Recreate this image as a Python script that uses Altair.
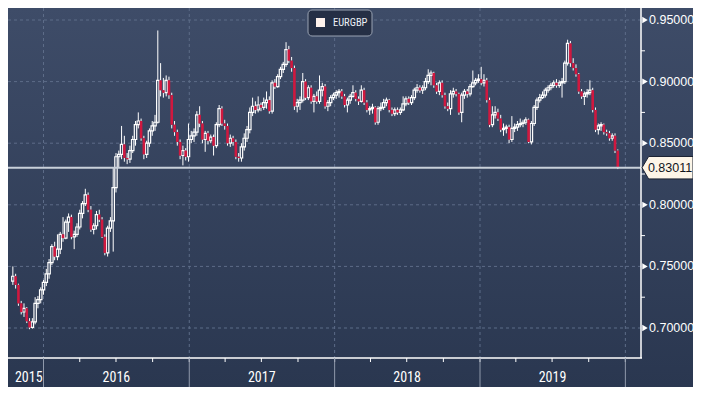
import altair as alt
import pandas as pd

# ---------------- data (weekly EURGBP candles) -------------
series_name = "EURGBP"
first_week = "2015-10-16"
last_price = 0.83011

opens = [
    0.7380, 0.7420, 0.7350, 0.7200, 0.7130, 0.7160, 0.7055, 0.7005, 0.7050, 0.7200,
    0.7230, 0.7310, 0.7370, 0.7440, 0.7530, 0.7660, 0.7580, 0.7640, 0.7760, 0.7730,
    0.7860, 0.7900, 0.7740, 0.7760, 0.7820, 0.7930, 0.8010, 0.8080, 0.7960, 0.7800,
    0.7830, 0.7920, 0.7880, 0.7740, 0.7610, 0.7810, 0.7870, 0.8140, 0.8390, 0.8410,
    0.8490, 0.8380, 0.8370, 0.8440, 0.8530, 0.8650, 0.8680, 0.8540, 0.8410, 0.8500,
    0.8600, 0.8640, 0.8670, 0.9010, 0.8930, 0.8910, 0.9010, 0.8890, 0.8650, 0.8590,
    0.8510, 0.8400, 0.8440, 0.8390, 0.8530, 0.8560, 0.8590, 0.8730, 0.8660, 0.8530,
    0.8580, 0.8520, 0.8550, 0.8480, 0.8650, 0.8780, 0.8660, 0.8640, 0.8500, 0.8540,
    0.8510, 0.8390, 0.8380, 0.8470, 0.8540, 0.8610, 0.8750, 0.8800, 0.8770, 0.8810,
    0.8790, 0.8830, 0.8850, 0.8760, 0.8990, 0.8960, 0.9040, 0.9100, 0.9140, 0.9260,
    0.9170, 0.9110, 0.8800, 0.8830, 0.8850, 0.9000, 0.8870, 0.8950, 0.8840, 0.8880,
    0.8840, 0.8930, 0.8960, 0.8800, 0.8830, 0.8870, 0.8890, 0.8910, 0.8920, 0.8880,
    0.8810, 0.8850, 0.8880, 0.8910, 0.8860, 0.8840, 0.8930, 0.8830, 0.8770, 0.8780,
    0.8790, 0.8670, 0.8780, 0.8790, 0.8830, 0.8850, 0.8770, 0.8740, 0.8770, 0.8750,
    0.8770, 0.8820, 0.8860, 0.8830, 0.8870, 0.8930, 0.8950, 0.8930, 0.8950, 0.9000,
    0.9050, 0.9070, 0.8970, 0.8920, 0.8990, 0.8890, 0.8800, 0.8780, 0.8900, 0.8920,
    0.8900, 0.8750, 0.8890, 0.8920, 0.8900, 0.8960, 0.8990, 0.9010, 0.9020, 0.8990,
    0.9010, 0.8850, 0.8650, 0.8730, 0.8750, 0.8700, 0.8610, 0.8620, 0.8630, 0.8530,
    0.8620, 0.8630, 0.8650, 0.8660, 0.8670, 0.8690, 0.8510, 0.8660, 0.8790, 0.8850,
    0.8870, 0.8890, 0.8930, 0.8950, 0.8970, 0.8990, 0.8970, 0.8990, 0.9000, 0.9150,
    0.9310, 0.9150, 0.9110, 0.9060, 0.8920, 0.8880, 0.8900, 0.8910, 0.8930, 0.8770,
    0.8610, 0.8640, 0.8650, 0.8590, 0.8580, 0.8540, 0.8560, 0.8440,
]
highs = [
    0.7500, 0.7440, 0.7360, 0.7220, 0.7200, 0.7170, 0.7080, 0.7080, 0.7250, 0.7260,
    0.7330, 0.7390, 0.7480, 0.7560, 0.7680, 0.7700, 0.7760, 0.7780, 0.7900, 0.7880,
    0.7930, 0.7920, 0.7790, 0.7850, 0.7960, 0.8030, 0.8130, 0.8100, 0.7990, 0.7850,
    0.7950, 0.7960, 0.7900, 0.7760, 0.7830, 0.7900, 0.8300, 0.8420, 0.8440, 0.8640,
    0.8560, 0.8420, 0.8480, 0.8560, 0.8680, 0.8750, 0.8700, 0.8560, 0.8520, 0.8620,
    0.8680, 0.8730, 0.9415, 0.9150, 0.9030, 0.9050, 0.9040, 0.8910, 0.8680, 0.8610,
    0.8530, 0.8480, 0.8460, 0.8660, 0.8600, 0.8620, 0.8760, 0.8800, 0.8680, 0.8600,
    0.8600, 0.8570, 0.8570, 0.8670, 0.8810, 0.8800, 0.8690, 0.8660, 0.8570, 0.8560,
    0.8530, 0.8420, 0.8500, 0.8580, 0.8640, 0.8790, 0.8870, 0.8840, 0.8880, 0.8830,
    0.8870, 0.8920, 0.8880, 0.9010, 0.9020, 0.9060, 0.9120, 0.9160, 0.9320, 0.9290,
    0.9200, 0.9130, 0.8860, 0.8880, 0.9070, 0.9020, 0.8970, 0.8970, 0.8900, 0.8920,
    0.9050, 0.8990, 0.8980, 0.8850, 0.8890, 0.8910, 0.8930, 0.8940, 0.8940, 0.8900,
    0.8870, 0.8900, 0.8970, 0.8930, 0.8880, 0.8970, 0.8950, 0.8850, 0.8800, 0.8820,
    0.8800, 0.8800, 0.8830, 0.8860, 0.8870, 0.8860, 0.8790, 0.8790, 0.8790, 0.8790,
    0.8880, 0.8880, 0.8880, 0.8890, 0.8950, 0.8980, 0.8970, 0.8970, 0.9030, 0.9100,
    0.9090, 0.9080, 0.8990, 0.9010, 0.9010, 0.8910, 0.8830, 0.8930, 0.8950, 0.8940,
    0.8910, 0.8910, 0.8940, 0.8940, 0.8980, 0.9090, 0.9030, 0.9060, 0.9120, 0.9060,
    0.9030, 0.8870, 0.8800, 0.8800, 0.8780, 0.8730, 0.8660, 0.8650, 0.8650, 0.8720,
    0.8660, 0.8680, 0.8700, 0.8690, 0.8710, 0.8700, 0.8680, 0.8810, 0.8870, 0.8900,
    0.8920, 0.8950, 0.8970, 0.8990, 0.9010, 0.9020, 0.9010, 0.9030, 0.9170, 0.9340,
    0.9330, 0.9190, 0.9140, 0.9070, 0.8940, 0.8920, 0.8940, 0.9010, 0.8950, 0.8790,
    0.8660, 0.8670, 0.8660, 0.8610, 0.8600, 0.8580, 0.8580, 0.8450,
]
lows = [
    0.7350, 0.7320, 0.7180, 0.7110, 0.7090, 0.7040, 0.6990, 0.6995, 0.7030, 0.7160,
    0.7200, 0.7270, 0.7340, 0.7400, 0.7510, 0.7550, 0.7550, 0.7600, 0.7700, 0.7720,
    0.7780, 0.7720, 0.7640, 0.7740, 0.7800, 0.7890, 0.7990, 0.7940, 0.7780, 0.7760,
    0.7800, 0.7860, 0.7730, 0.7590, 0.7580, 0.7780, 0.7620, 0.8100, 0.8300, 0.8370,
    0.8350, 0.8330, 0.8340, 0.8420, 0.8480, 0.8620, 0.8520, 0.8370, 0.8380, 0.8470,
    0.8560, 0.8600, 0.8660, 0.8880, 0.8870, 0.8880, 0.8860, 0.8620, 0.8560, 0.8480,
    0.8370, 0.8320, 0.8360, 0.8350, 0.8500, 0.8510, 0.8560, 0.8630, 0.8500, 0.8430,
    0.8490, 0.8500, 0.8400, 0.8460, 0.8630, 0.8640, 0.8610, 0.8480, 0.8470, 0.8480,
    0.8370, 0.8350, 0.8350, 0.8440, 0.8510, 0.8580, 0.8720, 0.8740, 0.8750, 0.8760,
    0.8770, 0.8780, 0.8740, 0.8740, 0.8940, 0.8950, 0.9020, 0.9070, 0.9120, 0.9150,
    0.9080, 0.8770, 0.8750, 0.8770, 0.8830, 0.8850, 0.8850, 0.8820, 0.8750, 0.8820,
    0.8820, 0.8880, 0.8780, 0.8760, 0.8800, 0.8850, 0.8860, 0.8870, 0.8860, 0.8790,
    0.8750, 0.8820, 0.8870, 0.8840, 0.8810, 0.8830, 0.8810, 0.8750, 0.8730, 0.8740,
    0.8650, 0.8650, 0.8760, 0.8770, 0.8800, 0.8750, 0.8720, 0.8720, 0.8730, 0.8730,
    0.8760, 0.8800, 0.8810, 0.8810, 0.8850, 0.8910, 0.8910, 0.8900, 0.8930, 0.8980,
    0.8970, 0.8950, 0.8900, 0.8890, 0.8870, 0.8780, 0.8760, 0.8730, 0.8870, 0.8880,
    0.8730, 0.8670, 0.8860, 0.8870, 0.8880, 0.8950, 0.8970, 0.8990, 0.8970, 0.8960,
    0.8830, 0.8630, 0.8630, 0.8700, 0.8680, 0.8590, 0.8560, 0.8580, 0.8500, 0.8510,
    0.8590, 0.8600, 0.8630, 0.8630, 0.8650, 0.8500, 0.8490, 0.8640, 0.8770, 0.8830,
    0.8860, 0.8870, 0.8910, 0.8930, 0.8950, 0.8950, 0.8950, 0.8870, 0.8980, 0.9130,
    0.9120, 0.9090, 0.9040, 0.8900, 0.8860, 0.8810, 0.8870, 0.8890, 0.8750, 0.8590,
    0.8570, 0.8600, 0.8570, 0.8560, 0.8520, 0.8520, 0.8420, 0.8290,
]
closes = [
    0.7420, 0.7350, 0.7200, 0.7130, 0.7160, 0.7055, 0.7005, 0.7050, 0.7200, 0.7230,
    0.7310, 0.7370, 0.7440, 0.7530, 0.7660, 0.7580, 0.7640, 0.7760, 0.7730, 0.7860,
    0.7900, 0.7740, 0.7760, 0.7820, 0.7930, 0.8010, 0.8080, 0.7960, 0.7800, 0.7830,
    0.7920, 0.7880, 0.7740, 0.7610, 0.7810, 0.7870, 0.8140, 0.8390, 0.8410, 0.8490,
    0.8380, 0.8370, 0.8440, 0.8530, 0.8650, 0.8680, 0.8540, 0.8410, 0.8500, 0.8600,
    0.8640, 0.8670, 0.9010, 0.8930, 0.8910, 0.9010, 0.8890, 0.8650, 0.8590, 0.8510,
    0.8400, 0.8440, 0.8390, 0.8530, 0.8560, 0.8590, 0.8730, 0.8660, 0.8530, 0.8580,
    0.8520, 0.8550, 0.8480, 0.8650, 0.8780, 0.8660, 0.8640, 0.8500, 0.8540, 0.8510,
    0.8390, 0.8380, 0.8470, 0.8540, 0.8610, 0.8750, 0.8800, 0.8770, 0.8810, 0.8790,
    0.8830, 0.8850, 0.8760, 0.8990, 0.8960, 0.9040, 0.9100, 0.9140, 0.9260, 0.9170,
    0.9110, 0.8800, 0.8830, 0.8850, 0.9000, 0.8870, 0.8950, 0.8840, 0.8880, 0.8840,
    0.8930, 0.8960, 0.8800, 0.8830, 0.8870, 0.8890, 0.8910, 0.8920, 0.8880, 0.8810,
    0.8850, 0.8880, 0.8910, 0.8860, 0.8840, 0.8930, 0.8830, 0.8770, 0.8780, 0.8790,
    0.8670, 0.8780, 0.8790, 0.8830, 0.8850, 0.8770, 0.8740, 0.8770, 0.8750, 0.8770,
    0.8820, 0.8860, 0.8830, 0.8870, 0.8930, 0.8950, 0.8930, 0.8950, 0.9000, 0.9050,
    0.9070, 0.8970, 0.8920, 0.8990, 0.8890, 0.8800, 0.8780, 0.8900, 0.8920, 0.8900,
    0.8750, 0.8890, 0.8920, 0.8900, 0.8960, 0.8990, 0.9010, 0.9020, 0.8990, 0.9010,
    0.8850, 0.8650, 0.8730, 0.8750, 0.8700, 0.8610, 0.8620, 0.8630, 0.8530, 0.8620,
    0.8630, 0.8650, 0.8660, 0.8670, 0.8690, 0.8510, 0.8660, 0.8790, 0.8850, 0.8870,
    0.8890, 0.8930, 0.8950, 0.8970, 0.8990, 0.8970, 0.8990, 0.9000, 0.9150, 0.9310,
    0.9150, 0.9110, 0.9060, 0.8920, 0.8880, 0.8900, 0.8910, 0.8930, 0.8770, 0.8610,
    0.8640, 0.8650, 0.8590, 0.8580, 0.8540, 0.8560, 0.8440, 0.8301,
]

y_ticks = [0.70, 0.75, 0.80, 0.85, 0.90, 0.95]
y_minor = [0.725, 0.775, 0.825, 0.875, 0.925]
year_labels = ["2015", "2016", "2017", "2018", "2019"]
year_starts = ["2016-01-01", "2017-01-01", "2018-01-01", "2019-01-01", "2020-01-01"]

# ---------------- layout ---------------------------------------------------------
W, H = 633, 350          # plot area
RP, BP = 52, 29          # room for right axis and bottom axis (page stays 701x395)
DAY = 86400000
PPD = 0.40465            # pixels per day
X2016 = 31               # pixel of 2016-01-01 inside the plot
t2016 = pd.Timestamp("2016-01-01", tz="UTC").value // 10**6
x_dom = [t2016 - X2016 / PPD * DAY, t2016 + (W - X2016) / PPD * DAY]
y_dom = [0.95 - 338 / 1232, 0.95 + 12 / 1232]

xs = alt.Scale(type="utc", domain=x_dom)
ys = alt.Scale(domain=y_dom, nice=False, zero=False)

NARROW = "Liberation Sans Narrow, Roboto Condensed, DejaVu Sans Condensed, Liberation Sans, sans-serif"
SANS = "Liberation Sans, Arial, sans-serif"

dates = list(pd.date_range(first_week, periods=len(closes), freq="7D").strftime("%Y-%m-%d"))
candles = pd.DataFrame({"date": dates, "o": opens, "h": highs, "l": lows, "c": closes})
one = pd.DataFrame({"k": [0]})

# background gradient
bg = alt.Chart(one).mark_rect(
    fill=alt.LinearGradient(
        gradient="linear",
        stops=[alt.GradientStop(color="#3e4c68", offset=0),
               alt.GradientStop(color="#2a3750", offset=1)],
        x1=0, x2=0, y1=0, y2=1),
).encode(x=alt.value(0), x2=alt.value(W + RP), y=alt.value(0), y2=alt.value(H + BP))

grid_h = alt.Chart(pd.DataFrame({"v": y_ticks})).mark_rule(
    color="#5d6c88", strokeDash=[3, 3], strokeWidth=1
).encode(y=alt.Y("v:Q", scale=ys, axis=None))

grid_v = alt.Chart(pd.DataFrame({"d": year_starts})).mark_rule(
    color="#5d6c88", strokeDash=[3, 3], strokeWidth=1
).encode(x=alt.X("d:T", scale=xs, axis=None), y=alt.value(0), y2=alt.value(H))

base = alt.Chart(candles).transform_calculate(
    top="max(datum.o, datum.c)", bot="min(datum.o, datum.c)"
)
X = alt.X("date:T", scale=xs, axis=None)
wick_up = base.mark_rule(color="white", strokeWidth=1).encode(
    x=X, y=alt.Y("top:Q", scale=ys, axis=None), y2="h:Q")
wick_dn = base.mark_rule(color="white", strokeWidth=1).encode(
    x=X, y=alt.Y("l:Q", scale=ys, axis=None), y2="bot:Q")
body_up = base.transform_filter("datum.c >= datum.o").mark_bar(
    width=2.4, fillOpacity=0, stroke="white", strokeWidth=1.2
).encode(x=X, y=alt.Y("o:Q", scale=ys, axis=None), y2="c:Q")
body_dn = base.transform_filter("datum.c < datum.o").mark_bar(
    width=2.6, color="#d0183f"
).encode(x=X, y=alt.Y("o:Q", scale=ys, axis=None), y2="c:Q")

price_line = alt.Chart(pd.DataFrame({"v": [last_price]})).mark_rule(
    color="#c9d0da", strokeWidth=2
).encode(y=alt.Y("v:Q", scale=ys, axis=None), x=alt.value(0), x2=alt.value(W))

bottom_line = alt.Chart(one).mark_rule(color="white", strokeWidth=1.5).encode(
    x=alt.value(0), x2=alt.value(W + 1), y=alt.value(H))
right_line = alt.Chart(one).mark_rule(color="white", strokeWidth=1.5).encode(
    x=alt.value(W), y=alt.value(0), y2=alt.value(H))

quarters = list(pd.date_range("2015-10-01", "2020-01-01", freq="QS").strftime("%Y-%m-%d"))
q_ticks = alt.Chart(pd.DataFrame({"d": quarters})).mark_rule(color="white", strokeWidth=1).encode(
    x=alt.X("d:T", scale=xs, axis=None), y=alt.value(H), y2=alt.value(H + 4))

year_sep = alt.Chart(pd.DataFrame({"d": year_starts})).mark_rule(color="#8f99ab", strokeWidth=1).encode(
    x=alt.X("d:T", scale=xs, axis=None), y=alt.value(H), y2=alt.value(H + BP))

label_pos = ["2015-11-25"] + [f"{y}-07-02" for y in year_labels[1:]]
year_text = alt.Chart(pd.DataFrame({"d": label_pos, "t": year_labels})).mark_text(
    color="white", fontSize=14, font=NARROW, baseline="middle"
).encode(x=alt.X("d:T", scale=xs, axis=None), y=alt.value(H + 20), text="t:N")

ytick_df = pd.DataFrame({"v": y_ticks})
y_labels = alt.Chart(ytick_df).mark_text(
    align="left", baseline="middle", color="white", fontSize=12.5, font=SANS
).encode(x=alt.value(W + 8), y=alt.Y("v:Q", scale=ys, axis=None),
         text=alt.Text("v:Q", format=".5f"))
y_marks = alt.Chart(ytick_df).mark_point(
    shape="triangle-right", filled=True, color="white", size=40, opacity=1
).encode(x=alt.value(W + 4), y=alt.Y("v:Q", scale=ys, axis=None))
y_minor_ticks = alt.Chart(pd.DataFrame({"v": y_minor})).mark_rule(color="white", strokeWidth=1).encode(
    x=alt.value(W), x2=alt.value(W + 4), y=alt.Y("v:Q", scale=ys, axis=None))

price_df = pd.DataFrame({"v": [last_price]})
price_box = alt.Chart(price_df).mark_point(
    shape="M -1 0 L -0.74 -0.44 L 1 -0.44 L 1 0.44 L -0.74 0.44 Z",
    filled=True, fill="#fdf5e8", stroke="#1b2233", strokeWidth=1, size=2601, opacity=1
).encode(x=alt.value(W + 26.5), y=alt.Y("v:Q", scale=ys, axis=None))
price_text = alt.Chart(price_df).mark_text(
    color="#10141c", fontSize=12.5, font=SANS, baseline="middle"
).encode(x=alt.value(W + 29), y=alt.Y("v:Q", scale=ys, axis=None),
         text=alt.Text("v:Q", format=".5f"))

legend_box = alt.Chart(one).mark_rect(
    fill="#252f45", stroke="#9aa3b3", strokeWidth=1, cornerRadius=4
).encode(x=alt.value(300), x2=alt.value(364), y=alt.value(2), y2=alt.value(28))
legend_sq = alt.Chart(one).mark_rect(fill="#fff2ec").encode(
    x=alt.value(308), x2=alt.value(317), y=alt.value(10), y2=alt.value(19))
legend_txt = alt.Chart(pd.DataFrame({"t": [series_name]})).mark_text(
    align="left", baseline="middle", color="#eef1f6", fontSize=10.5, font=NARROW
).encode(x=alt.value(325), y=alt.value(15), text="t:N")

chart = alt.layer(
    bg, grid_h, grid_v, wick_up, wick_dn, body_up, body_dn, price_line,
    bottom_line, right_line, q_ticks, year_sep, year_text,
    y_minor_ticks, y_marks, y_labels, price_box, price_text,
    legend_box, legend_sq, legend_txt,
).properties(
    width=W, height=H,
    autosize=alt.AutoSizeParams(type="none"),
    padding={"left": 0, "top": 0, "right": RP, "bottom": BP},
    background="#2d3a54",
).configure_view(strokeWidth=0)

chart.save("out.html", embed_options={"renderer": "svg", "actions": False})
